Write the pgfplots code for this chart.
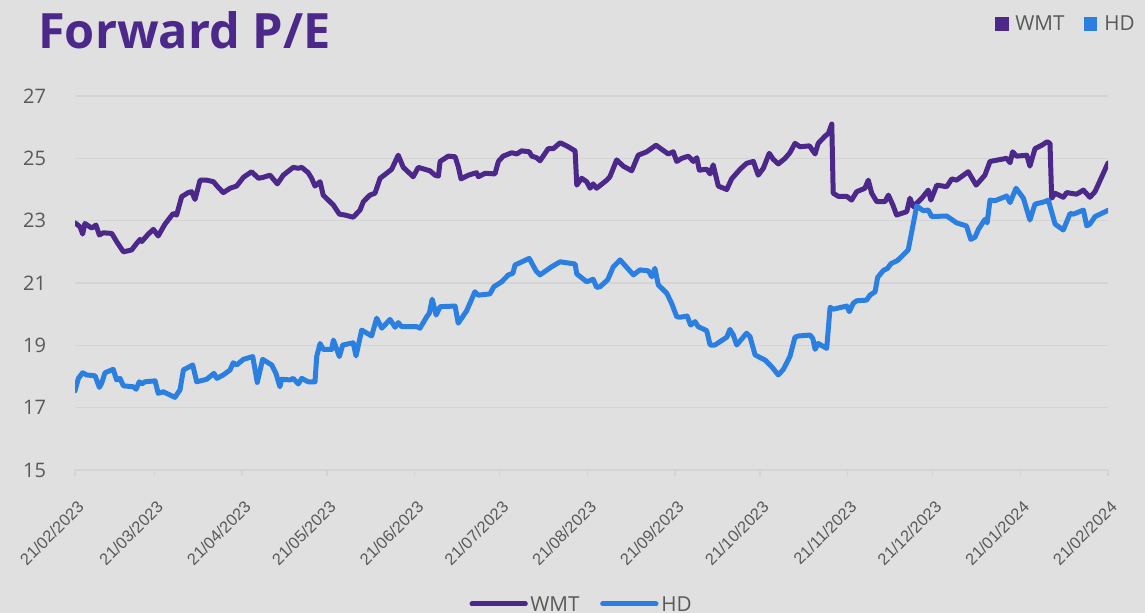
\documentclass[border=0pt]{standalone}
\usepackage{fontspec}
\setmainfont{Open Sans}
\newfontfamily\arialish{Liberation Sans}
\usepackage{pgfplots}
\pgfplotsset{compat=1.18}

\definecolor{wmt}{RGB}{75,40,138}
\definecolor{hd}{RGB}{43,127,224}
\definecolor{bg}{RGB}{224,224,224}
\definecolor{gridc}{RGB}{212,212,212}
\definecolor{lab}{RGB}{89,89,89}

\begin{document}
\begin{tikzpicture}
% page is 1145x613 px at 0.75pt per px
\fill[bg] (0,0) rectangle (858.75pt,459.75pt);

\node[anchor=base west, font=\bfseries\fontsize{36.5}{40}\selectfont, text=wmt, inner sep=0pt]
  at (28.5pt,423pt) {Forward P/E};

\begin{axis}[
    at={(56.25pt,107.25pt)}, anchor=south west,
    scale only axis,
    width=774.75pt, height=280.5pt,
    xmin=0, xmax=365,
    ymin=15, ymax=27,
    ytick={15,17,...,27},
    xtick={0,28,59,89,120,150,181,212,242,273,303,334,365},
    xticklabels={21/02/2023,21/03/2023,21/04/2023,21/05/2023,21/06/2023,21/07/2023,
      21/08/2023,21/09/2023,21/10/2023,21/11/2023,21/12/2023,21/01/2024,21/02/2024},
    axis x line*=bottom, axis y line*=left,
    y axis line style={draw=none},
    x axis line style={draw=gridc, line width=1pt},
    xtick style={draw=gridc, line width=1pt},
    ytick style={draw=none},
    tick align=outside,
    major tick length=4.5pt,
    ymajorgrids,
    major grid style={draw=gridc, line width=1pt},
    /pgf/number format/assume math mode=true,
    yticklabel style={font=\fontsize{15}{17}\selectfont, text=lab, inner sep=0pt,
      anchor=east, xshift=-17pt},
    xticklabel style={font=\arialish\fontsize{12.3}{14}\selectfont, text=lab,
      inner sep=0pt, xshift=4.5pt, yshift=-21pt, rotate=45, anchor=east},
]
\addplot[wmt, line width=3.75pt, line join=round, line cap=round] coordinates {
(0,22.93) (1.8,22.8) (2.7,22.57) (3.5,22.91) (5.9,22.76) (7.4,22.86) (8.6,22.54)
(10.0,22.61) (13.0,22.59) (14.7,22.33) (17.1,22.0) (20.0,22.06) (21.8,22.27)
(23.0,22.4) (23.6,22.33) (25.9,22.57) (27.7,22.72) (29.4,22.51) (31.8,22.89)
(34.7,23.23) (35.9,23.18) (37.7,23.77) (40.0,23.9) (41.2,23.93) (42.4,23.68)
(44.2,24.3) (46.5,24.3) (48.9,24.25) (50.6,24.07) (52.4,23.9) (54.8,24.04)
(57.1,24.11) (59.5,24.39) (62.4,24.57) (64.8,24.36) (66.5,24.39) (68.9,24.46)
(71.5,24.18) (73.6,24.46) (77.1,24.71) (78.9,24.68) (80.1,24.71) (82.4,24.54)
(83.6,24.36) (84.8,24.11) (86.6,24.25) (87.7,23.82) (91.3,23.5) (93.4,23.21)
(95.4,23.18) (98.3,23.11) (100.7,23.34) (101.9,23.61) (104.2,23.82) (106.0,23.88)
(107.8,24.36) (110.1,24.52) (111.9,24.65) (114.2,25.1) (116.0,24.71) (119.5,24.41)
(121.3,24.71) (125.4,24.6) (127.2,24.46) (128.4,24.43) (129.0,24.9) (131.9,25.07)
(134.3,25.05) (135.4,24.74) (136.4,24.34) (139.0,24.46) (141.9,24.54) (142.5,24.41)
(144.9,24.52) (148.4,24.5) (149.6,24.9) (151.3,25.07) (154.3,25.18) (156.1,25.14)
(157.8,25.24) (160.5,25.21) (161.4,25.07) (163.1,25.02) (164.3,24.92) (167.2,25.31)
(169.0,25.31) (171.4,25.5) (173.7,25.4) (176.7,25.24) (177.3,24.14) (179.0,24.36)
(180.8,24.25) (182.0,24.04) (183.1,24.18) (184.3,24.04) (187.9,24.3) (189.0,24.41)
(191.4,24.95) (193.7,24.75) (196.7,24.6) (199.0,25.1) (202.0,25.21) (205.3,25.42)
(207.3,25.29) (209.6,25.14) (211.4,25.21) (212.6,24.9) (214.4,25.0) (216.7,25.07)
(218.5,24.9) (219.7,25.02) (220.6,24.62) (223.2,24.65) (224.4,24.5) (225.5,24.79)
(227.3,24.11) (230.3,24.0) (232.0,24.34) (235.0,24.65) (237.3,24.84) (239.7,24.9)
(241.4,24.46) (243.2,24.68) (245.3,25.16) (246.7,24.97) (248.5,24.82) (250.9,25.0)
(252.6,25.18) (254.4,25.48) (256.2,25.37) (259.5,25.4) (261.5,25.14) (262.6,25.48)
(265.0,25.71) (266.2,25.8) (267.4,26.1) (267.9,23.88) (269.7,23.78) (272.7,23.78)
(274.4,23.66) (276.2,23.93) (279.1,24.04) (280.3,24.3) (281.5,23.88) (283.3,23.61)
(286.2,23.61) (287.4,23.82) (289.0,23.5) (290.3,23.18) (293.9,23.29) (295.0,23.72)
(296.2,23.45) (299.2,23.72) (301.5,23.98) (302.4,23.66) (304.5,24.14) (308.0,24.09)
(309.8,24.34) (311.5,24.3) (315.6,24.57) (318.4,24.14) (321.5,24.46) (323.3,24.9)
(329.2,25.0) (330.4,24.86) (331.3,25.21) (332.7,25.07) (336.3,25.1) (337.4,24.75)
(339.2,25.31) (341.6,25.42) (343.5,25.53) (344.5,25.48) (345.1,23.72) (346.3,23.88)
(349.2,23.75) (350.4,23.9) (353.9,23.85) (356.3,23.98) (358.6,23.75) (360.4,23.93)
(365,24.85)
};
\addplot[hd, line width=3.75pt, line join=round, line cap=round] coordinates {
(0,17.54) (1.2,17.94) (2.7,18.12) (4.1,18.05) (7.1,18.02) (8.6,17.65) (9.4,17.78)
(10.6,18.12) (13.5,18.23) (14.7,17.89) (15.9,17.94) (17.1,17.7) (20.6,17.67)
(21.6,17.59) (22.7,17.83) (23.6,17.76) (24.7,17.83) (28.3,17.86) (29.4,17.46)
(31.2,17.51) (35.3,17.33) (37.1,17.57) (38.3,18.21) (41.6,18.37) (43.0,17.83)
(46.5,17.91) (49.1,18.1) (50.1,17.94) (52.4,18.05) (54.8,18.21) (55.9,18.44)
(57.1,18.37) (59.5,18.55) (62.8,18.64) (64.4,17.81) (66.3,18.55) (69.5,18.37)
(71.0,18.1) (72.4,17.67) (73.0,17.91) (76.0,17.89) (77.1,17.94) (78.9,17.76)
(80.1,17.94) (82.4,17.83) (84.8,17.83) (85.4,18.64) (86.6,19.06) (87.7,18.87)
(90.7,18.87) (91.3,19.17) (93.4,18.64) (94.6,19.01) (98.3,19.08) (99.3,18.66)
(101.3,19.49) (104.8,19.3) (106.6,19.87) (108.4,19.55) (111.3,19.83) (113.1,19.58)
(114.2,19.73) (115.4,19.6) (120.7,19.6) (121.9,19.55) (124.3,19.92) (125.2,20.03)
(126.2,20.48) (127.6,19.97) (129.0,20.24) (134.3,20.26) (135.4,19.71) (138.4,20.11)
(141.3,20.72) (142.5,20.61) (146.6,20.65) (148.0,20.88) (150.8,21.04) (153.1,21.26)
(154.7,21.31) (155.5,21.58) (157.2,21.65) (160.5,21.79) (162.9,21.39) (164.3,21.26)
(168.4,21.52) (171.4,21.68) (176.7,21.61) (177.3,21.29) (180.8,21.04) (183.1,21.12)
(184.3,20.86) (185.5,20.88) (188.2,21.1) (190.2,21.52) (192.6,21.74) (197.3,21.26)
(199.6,21.42) (202.6,21.39) (203.8,21.2) (204.9,21.47) (206.1,20.94) (209.1,20.67)
(210.8,20.35) (212.6,19.92) (213.8,19.9) (216.3,19.94) (217.5,19.65) (219.1,19.76)
(220.2,19.6) (223.2,19.47) (224.4,19.01) (226.1,19.01) (230.3,19.26) (231.4,19.51)
(232.6,19.33) (233.8,19.01) (237.3,19.39) (238.5,19.28) (240.3,18.69) (243.8,18.53)
(246.2,18.31) (248.5,18.05) (250.3,18.23) (252.6,18.64) (254.4,19.26) (255.6,19.3)
(259.7,19.33) (260.7,19.22) (261.5,18.87) (262.6,19.06) (265.6,18.9) (266.8,20.22)
(267.9,20.16) (272.7,20.26) (273.6,20.08) (275.0,20.35) (276.2,20.43) (279.7,20.45)
(280.9,20.61) (282.7,20.72) (283.6,21.18) (285.6,21.4) (287.1,21.47) (288.3,21.62)
(290.6,21.72) (294.4,22.06) (297.4,23.47) (299.7,23.32) (301.5,23.34) (302.7,23.13)
(308.0,23.15) (311.5,22.93) (315.0,22.83) (316.5,22.4) (318.0,22.47) (319.2,22.72)
(321.5,23.04) (322.3,22.93) (323.3,23.66) (325.1,23.64) (329.2,23.79) (330.4,23.58)
(332.5,24.04) (335.1,23.72) (337.4,23.02) (339.2,23.53) (342.7,23.61) (343.9,23.66)
(346.3,22.89) (349.2,22.7) (351.6,23.23) (352.8,23.21) (356.3,23.34) (357.5,22.83)
(358.6,22.89) (360.4,23.13) (365,23.33)
};
\end{axis}

% legend at the top right
\fill[wmt] (746.25pt,436.5pt) rectangle (756.75pt,447pt);
\node[anchor=base west, inner sep=0pt, text=lab, font=\fontsize{15.5}{18}\selectfont]
  at (761.25pt,436.5pt) {WMT};
\fill[hd] (813pt,436.5pt) rectangle (823pt,447pt);
\node[anchor=base west, inner sep=0pt, text=lab, font=\fontsize{15.5}{18}\selectfont]
  at (828pt,436.5pt) {HD};

% legend at the bottom, cut by the page edge
\draw[wmt, line width=3.75pt, line cap=round] (354pt,6.75pt) -- (394pt,6.75pt);
\node[anchor=base west, inner sep=0pt, text=lab, font=\fontsize{15.5}{18}\selectfont]
  at (397.5pt,0.75pt) {WMT};
\draw[hd, line width=3.75pt, line cap=round] (452pt,6.75pt) -- (492pt,6.75pt);
\node[anchor=base west, inner sep=0pt, text=lab, font=\fontsize{15.5}{18}\selectfont]
  at (495.75pt,0.75pt) {HD};

\pgfresetboundingbox
\useasboundingbox (0,0) rectangle (858.75pt,459.75pt);
\end{tikzpicture}
\end{document}
